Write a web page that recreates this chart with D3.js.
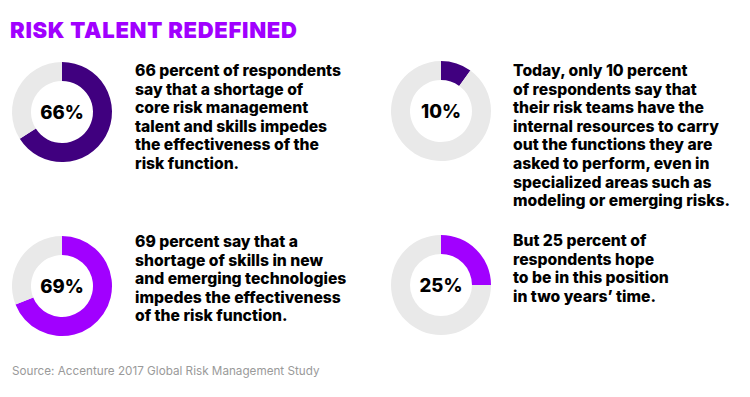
<!DOCTYPE html>
<html>
  <head>
    <script src="https://d3js.org/d3.v7.min.js"></script>
    <style>
      body { margin: 0; background: #fff; }
      text { font-family: Inter, "Noto Sans", sans-serif; }
    </style>
  </head>
  <body>
    <div id="chart"></div>

    <script>
      const title = "RISK TALENT REDEFINED";
      const source = "Source: Accenture 2017 Global Risk Management Study";
      const values = [66, 10, 69, 25];
      const labels = ["66%", "10%", "69%", "25%"];
      const colors = ["#40007f", "#40007f", "#a100ff", "#a100ff"];
      const captions = [
        ["66 percent of respondents", "say that a shortage of", "core risk management",
         "talent and skills impedes", "the effectiveness of the", "risk function."],
        ["Today, only 10 percent", "of respondents say that", "their risk teams have the",
         "internal resources to carry", "out the functions they are", "asked to perform, even in",
         "specialized areas such as", "modeling or emerging risks."],
        ["69 percent say that a", "shortage of skills in new", "and emerging technologies",
         "impedes the effectiveness", "of the risk function."],
        ["But 25 percent of", "respondents hope", "to be in this position", "in two years\u2019 time."]
      ];

      const width = 750;
      const height = 397;
      const outerR = 50;
      const innerR = 31;
      // panel anchors: donut centre and first caption baseline
      const panels = [
        { cx: 62, cy: 112, tx: 135, ty: 76 },
        { cx: 441, cy: 111, tx: 513, ty: 76 },
        { cx: 62, cy: 286, tx: 135, ty: 247 },
        { cx: 441, cy: 285, tx: 513, ty: 246 }
      ];

      const svg = d3.select("#chart")
        .append("svg")
        .attr("width", width)
        .attr("height", height);

      svg.append("text")
        .attr("x", 10)
        .attr("y", 38)
        .attr("fill", "#a100ff")
        .style("font-size", "22px")
        .style("font-weight", 900)
        .style("letter-spacing", "0.7px")
        .text(title);

      const pie = d3.pie().sort(null).value(d => d);
      const arc = d3.arc().innerRadius(innerR).outerRadius(outerR);

      values.forEach((v, i) => {
        const p = panels[i];
        const g = svg.append("g")
          .attr("transform", `translate(${p.cx}, ${p.cy})`);
        g.selectAll("path")
          .data(pie([v, 100 - v]))
          .enter()
          .append("path")
          .attr("d", arc)
          .attr("fill", (d, j) => j === 0 ? colors[i] : "#e9e9e9");
        g.append("text")
          .attr("text-anchor", "middle")
          .attr("y", 7)
          .attr("fill", "#000")
          .style("font-size", "18.5px")
          .style("font-weight", 800)
          .text(labels[i]);

        svg.append("text")
          .attr("x", p.tx)
          .attr("y", p.ty)
          .attr("fill", "#000")
          .style("font-size", "15.7px")
          .style("font-weight", 800)
          .selectAll("tspan")
          .data(captions[i])
          .enter()
          .append("tspan")
          .attr("x", p.tx)
          .attr("dy", (d, j) => j === 0 ? 0 : 18.6)
          .text(d => d);
      });

      svg.append("text")
        .attr("x", 12)
        .attr("y", 375)
        .attr("fill", "#9a9a9a")
        .style("font-size", "11.7px")
        .text(source);
    </script>
  </body>
</html>
